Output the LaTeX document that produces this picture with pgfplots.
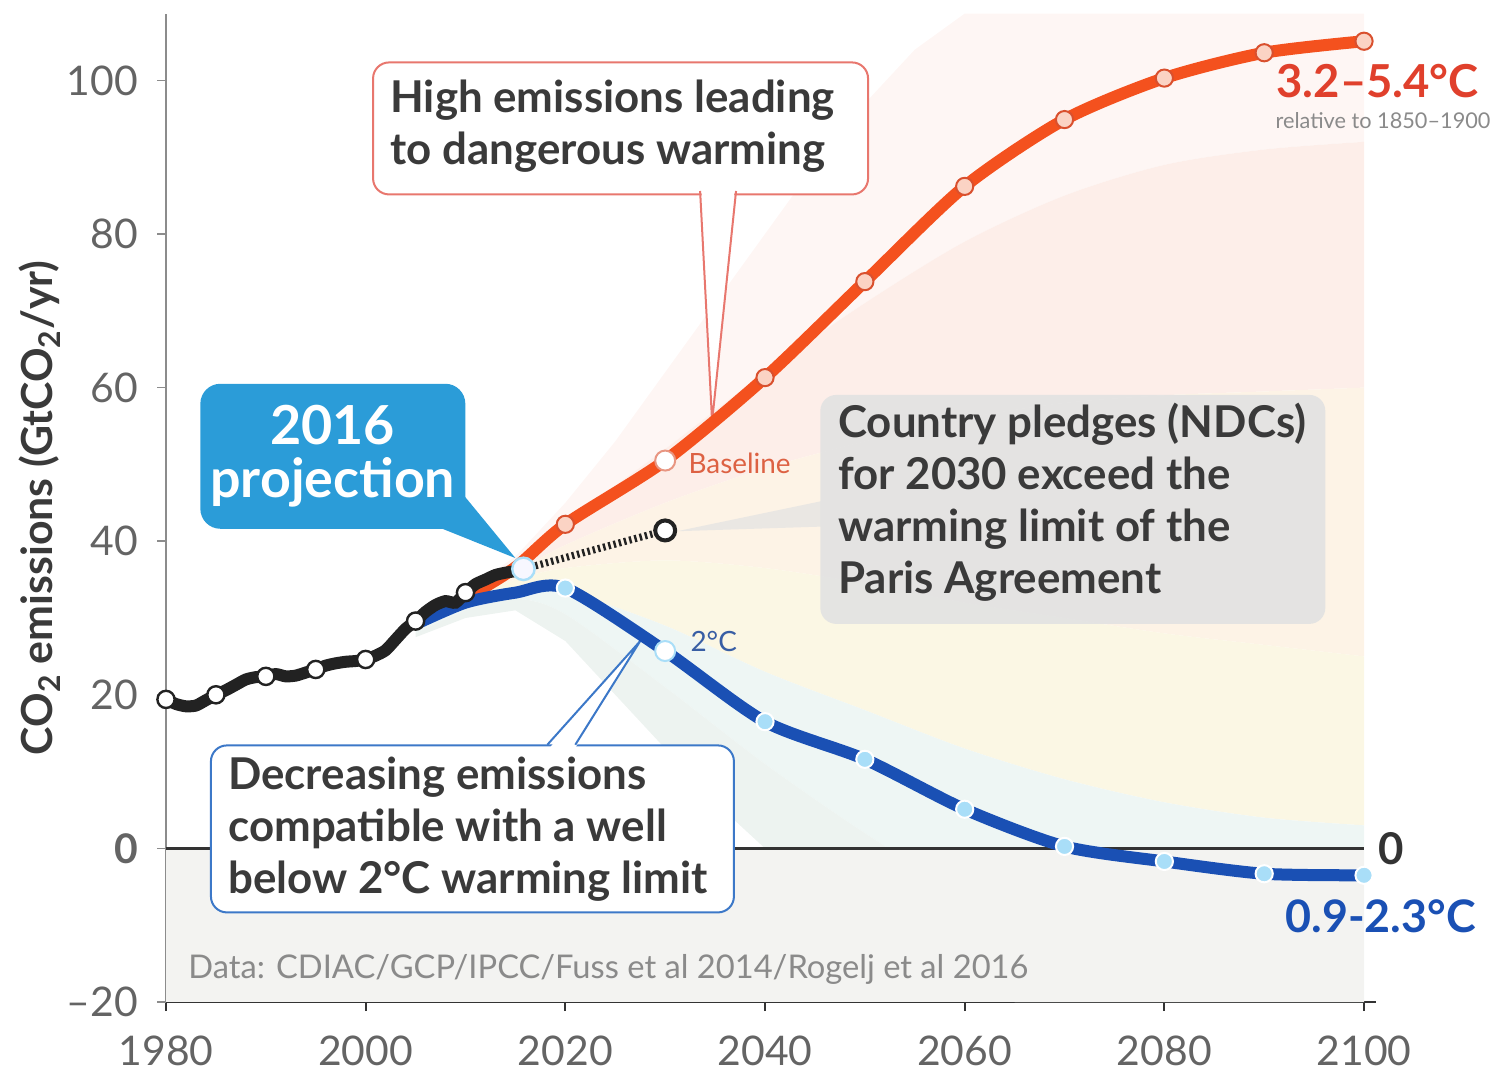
\documentclass[border=0pt]{standalone}
\usepackage{pgfplots}
\pgfplotsset{compat=1.18}
\usepgfplotslibrary{fillbetween}
\usepackage{fontspec}
\setmainfont{Lato}
\definecolor{redline}{HTML}{F4511E}
\definecolor{redfill}{HTML}{FBD3C4}
\definecolor{rededge}{HTML}{D9502E}
\definecolor{redtxt}{HTML}{E0402C}
\definecolor{blueline}{HTML}{1A50B4}
\definecolor{bluefill}{HTML}{A9DEF8}
\definecolor{histline}{HTML}{222222}
\definecolor{boxblue}{HTML}{2B9CD8}
\definecolor{boxred}{HTML}{E8776E}
\definecolor{boxbl}{HTML}{3C78C8}
\definecolor{boxgrey}{HTML}{E2E2E2}
\definecolor{txt}{HTML}{3A3A3A}
\definecolor{tickgray}{HTML}{646464}
\definecolor{notegray}{HTML}{8A8A8A}
\definecolor{zerogrey}{HTML}{F3F3F1}
\definecolor{cA}{HTML}{FEF6F4}
\definecolor{cB}{HTML}{FDEEE9}
\definecolor{cC}{HTML}{FDF3E6}
\definecolor{cD}{HTML}{FBF7E4}
\definecolor{cE}{HTML}{EEF6F4}
\definecolor{cF}{HTML}{EDF3F0}
\newcommand{\annfont}{\fontsize{22}{26}\selectfont\bfseries}
\begin{document}
\begin{tikzpicture}
\begin{axis}[
  scale only axis, width=605bp, height=494.2bp,
  xmin=1980, xmax=2101.2, ymin=-20, ymax=108.7,
  axis x line=bottom, axis y line=left,
  axis line style={-},
  x axis line style={-, draw=black!80, line width=1bp},
  y axis line style={-, draw=black!45, line width=0.8bp},
  tick align=outside,
  major tick length=4.5bp,
  xtick={1980,2000,2020,2040,2060,2080,2100},
  xticklabels={1980,2000,2020,2040,2060,2080,2100},
  ytick={-20,0,20,40,60,80,100},
  yticklabels={–20,\textbf{0},20,40,60,80,100},
  xtick style={draw=black!80, line width=1bp},
  ytick style={draw=black!45, line width=0.8bp},
  ticklabel style={font=\fontsize{20.5}{24}\selectfont, text=tickgray},
  yticklabel style={xshift=-6bp},
  xticklabel style={yshift=-9bp},
  clip=false,
]
% grey band below zero
\addplot[fill=zerogrey, draw=none] coordinates {(1980,0)(2100,0)(2100,-20)(1980,-20)} -- cycle;
% scenario fan
\addplot[name path=T0, draw=none] coordinates {(2005,29.8)(2010,33.5)(2015,38)(2020,45)(2025,53)(2030,62)(2035,71)(2040,80)(2045,89)(2050,97)(2055,104)(2060,108.7)(2100,108.7)};
\addplot[name path=T1, draw=none, smooth] coordinates {(2005,29.7)(2010,33.3)(2015,37)(2020,42.5)(2030,52)(2040,62)(2050,71)(2060,79)(2070,85)(2080,89)(2090,91)(2100,92)};
\addplot[name path=T2, draw=none, smooth] coordinates {(2005,29.5)(2010,33)(2015,36)(2020,39.5)(2030,45)(2040,49.5)(2050,53)(2060,56)(2070,58)(2080,59)(2090,59.5)(2100,60)};
\addplot[name path=T3, draw=none, smooth] coordinates {(2005,29.2)(2010,32.5)(2015,35)(2020,36.5)(2030,37.5)(2040,36.5)(2050,34.5)(2060,32)(2070,30)(2080,28)(2090,26.5)(2100,25)};
\addplot[name path=T4, draw=none, smooth] coordinates {(2005,28.8)(2010,32)(2015,34)(2020,33.5)(2030,29)(2040,23)(2050,18)(2060,13)(2070,9)(2080,6)(2090,4)(2100,3)};
\addplot[name path=T5, draw=none, smooth] coordinates {(2005,28)(2010,31)(2015,32.5)(2020,30.5)(2030,21)(2040,11)(2050,2)(2060,-6)(2070,-12)(2080,-16)(2090,-18.5)(2100,-19.5)};
\addplot[name path=T6, draw=none] coordinates {(2005,27.5)(2010,30)(2015,31)(2020,27)(2025,20)(2030,13)(2035,6)(2040,0)(2045,-6)(2050,-11)(2055,-15)(2060,-18)(2065,-20)(2100,-20)};
\addplot[fill=cA, draw=none] fill between[of=T0 and T1];
\addplot[fill=cB, draw=none] fill between[of=T1 and T2];
\addplot[fill=cC, draw=none] fill between[of=T2 and T3];
\addplot[fill=cD, draw=none] fill between[of=T3 and T4];
\addplot[fill=cE, draw=none] fill between[of=T4 and T5];
\addplot[fill=cF, draw=none] fill between[of=T5 and T6];
% zero line
\addplot[color=black!80, line width=1.4bp] coordinates {(1980,0)(2100,0)};
% callout boxes and pointers
\node[anchor=north west, minimum width=132.5bp, minimum height=72.5bp, inner sep=0pt, fill=boxblue, rounded corners=10bp] at (axis cs:1983.4,60.55) {};
\fill[boxblue] (axis cs:2006,42.5) -- (axis cs:2015.0,37.8) -- (axis cs:2009.5,46.5) -- cycle;
\node[font=\fontsize{27}{26.5}\selectfont\bfseries, text=white, align=center, inner sep=0pt] at (axis cs:1996.7,51.1) {2016\\projection};
\node[anchor=north west, minimum width=247.5bp, minimum height=66bp, inner sep=0pt, draw=boxred, line width=1bp, fill=white, rounded corners=8bp] at (axis cs:2000.64,102.47) {};
\fill[white] (axis cs:2033.6,86.3) -- (axis cs:2034.7,55.6) -- (axis cs:2037.0,86.3) -- cycle;
\draw[boxred, line width=1bp] (axis cs:2033.5,85.6) -- (axis cs:2034.7,55.6) -- (axis cs:2037.1,85.6);
\node[anchor=west, font=\annfont, text=txt, align=left, inner sep=0pt] at (axis cs:2002.44,94.0) {High emissions leading\\to dangerous warming};
\fill[boxgrey, opacity=0.7] (axis cs:2045.6,45.2) -- (axis cs:2031.2,41.3) -- (axis cs:2045.6,41.9) -- cycle;
\node[anchor=north west, minimum width=252.5bp, minimum height=114.5bp, inner sep=0pt, fill=boxgrey, fill opacity=0.9, rounded corners=8bp] at (axis cs:2045.5,59.1) {};
\node[anchor=west, font=\annfont, text=txt, align=left, inner sep=0pt] at (axis cs:2047.3,45.05) {Country pledges (NDCs)\\for 2030 exceed the\\warming limit of the\\Paris Agreement};
\node[anchor=north west, minimum width=261.5bp, minimum height=83.5bp, inner sep=0pt, draw=boxbl, line width=1bp, fill=white, rounded corners=8bp] at (axis cs:1984.4,13.54) {};
\fill[white] (axis cs:2018.3,12.9) -- (axis cs:2027.5,27.0) -- (axis cs:2020.9,12.9) -- cycle;
\draw[boxbl, line width=1bp] (axis cs:2018.2,13.5) -- (axis cs:2027.5,27.0) -- (axis cs:2021.0,13.5);
\node[anchor=west, font=\annfont, text=txt, align=left, inner sep=0pt] at (axis cs:1986.2,2.47) {Decreasing emissions\\compatible with a well\\below 2°C warming limit};
% baseline scenario
\addplot[redline, line width=6bp, smooth, tension=0.45] coordinates {(2005,29.4)(2010,32.6)(2015,36.6)(2020,42.2)(2030,50.5)(2040,61.3)(2050,73.8)(2060,86.2)(2070,94.9)(2080,100.3)(2090,103.6)(2100,105.1)};
% 2 degree scenario
\addplot[blueline, line width=6bp, smooth, tension=0.45] coordinates {(2005,29.2)(2010,32.0)(2015,33.3)(2020,33.9)(2030,25.7)(2040,16.5)(2050,11.6)(2060,5.1)(2070,0.26)(2080,-1.7)(2090,-3.3)(2100,-3.5)};
% historical
\addplot[histline, line width=6bp, smooth, tension=0.4] coordinates {(1980,19.4)(1981,18.8)(1982,18.5)(1983,18.6)(1984,19.3)(1985,20.0)(1986,20.6)(1987,21.3)(1988,22.0)(1989,22.3)(1990,22.4)(1991,22.7)(1992,22.4)(1993,22.5)(1994,22.9)(1995,23.3)(1996,23.8)(1997,24.1)(1998,24.3)(1999,24.4)(2000,24.6)(2001,25.1)(2002,25.8)(2003,27.2)(2004,28.6)(2005,29.6)(2006,30.8)(2007,31.7)(2008,32.2)(2009,32.0)(2010,33.3)(2011,34.4)(2012,35.0)(2013,35.6)(2014,35.9)(2015,36.1)(2016,36.3)};
% NDC pledges
\addplot[histline, line width=3.6bp, dash pattern=on 1.2bp off 1.5bp] coordinates {(2017,36.8)(2030,41.4)};
% markers
\addplot[only marks, mark=*, mark size=4.3bp, mark options={fill=white, draw=histline, line width=1.2bp}] coordinates {(1980,19.4)(1985,20.0)(1990,22.4)(1995,23.3)(2000,24.6)(2005,29.6)(2010,33.3)};
\addplot[only marks, mark=*, mark size=4.3bp, mark options={fill=redfill, draw=rededge, line width=1bp}] coordinates {(2020,42.2)(2040,61.3)(2050,73.8)(2060,86.2)(2070,94.9)(2080,100.3)(2090,103.6)(2100,105.1)};
\addplot[only marks, mark=*, mark size=5bp, mark options={fill=white, draw=rededge!60, line width=1bp}] coordinates {(2030,50.5)};
\addplot[only marks, mark=*, mark size=4.3bp, mark options={fill=bluefill, draw=white, line width=1bp}] coordinates {(2020,33.9)(2040,16.5)(2050,11.6)(2060,5.1)(2070,0.26)(2080,-1.7)(2090,-3.3)(2100,-3.5)};
\addplot[only marks, mark=*, mark size=5bp, mark options={fill=white, draw=bluefill, line width=1bp}] coordinates {(2030,25.7)};
\addplot[only marks, mark=*, mark size=5bp, mark options={fill=white, draw=histline, line width=2bp}] coordinates {(2030,41.4)};
\addplot[only marks, mark=*, mark size=5.6bp, mark options={fill=blue!3!white, draw=bluefill, line width=1.2bp}] coordinates {(2015.8,36.4)};
% labels
\node[anchor=west, font=\fontsize{14}{16}\selectfont, text=rededge!90, inner sep=0pt] at (axis cs:2032.3,50.1) {Baseline};
\node[anchor=west, font=\fontsize{14}{16}\selectfont, text=blueline!70!gray, inner sep=0pt] at (axis cs:2032.5,27.0) {2°C};
\node[anchor=west, font=\fontsize{22.8}{24}\selectfont\bfseries, text=redtxt, inner sep=0pt] at (axis cs:2091.2,99.9) {3.2–5.4°C};
\node[anchor=west, font=\fontsize{10.9}{12}\selectfont, text=notegray, inner sep=0pt] at (axis cs:2091.1,94.8) {relative to 1850–1900};
\node[anchor=west, font=\fontsize{22.5}{24}\selectfont\bfseries, text=blueline, inner sep=0pt] at (axis cs:2092.1,-8.85) {0.9-2.3°C};
\node[anchor=west, font=\fontsize{22}{24}\selectfont\bfseries, text=black!80, inner sep=0pt] at (axis cs:2101.4,0) {0};
\node[anchor=west, font=\fontsize{16.4}{18}\selectfont, text=notegray, inner sep=0pt] at (axis cs:1982.2,-15.75) {Data: CDIAC/GCP/IPCC/Fuss et al 2014/Rogelj et al 2016};
\node[rotate=90, font=\fontsize{21.5}{24}\selectfont\bfseries, text=txt, inner sep=0pt] at ([xshift=-63bp]rel axis cs:0,0.5) {CO\textsubscript{2} emissions (GtCO\textsubscript{2}/yr)};
\coordinate (sw) at (rel axis cs:0,0);
\end{axis}
\pgfresetboundingbox
\path (sw) ++(-83bp,-37bp) rectangle ++(748bp,538bp);
\end{tikzpicture}
\end{document}
